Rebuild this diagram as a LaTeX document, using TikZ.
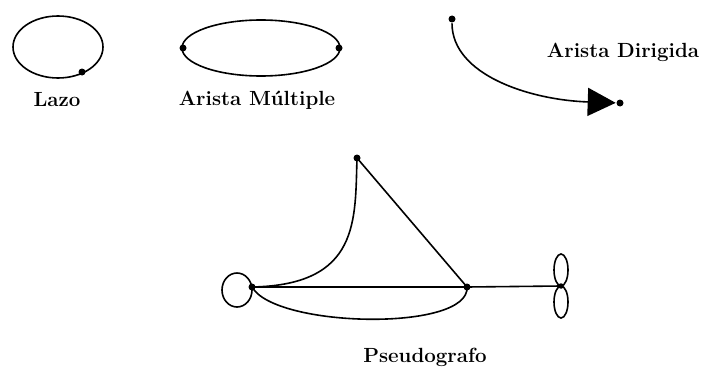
\documentclass[tikz,border=0pt]{standalone}
\usetikzlibrary{arrows.meta}
\begin{document}
\begin{tikzpicture}[x=1pt,y=-1pt,
  line width=1.6pt,
  dot/.style={circle,fill=black,inner sep=0pt,minimum size=7pt},
  lab/.style={font=\fontsize{20.5}{23}\selectfont\bfseries},
  edge/.style={draw=black,line width=1.6pt}]
\useasboundingbox (0,0) rectangle (706,369);
% Lazo
\draw (58,47) ellipse [x radius=45, y radius=31];
\node[dot] (l1) at (82,72) {};
\node[lab] (tl) at (57,100) {Lazo};
% Arista multiple
\draw (261,48) ellipse [x radius=79, y radius=28];
\node[dot] (m1) at (183,48) {};
\node[dot] (m2) at (339,48) {};
\node[lab] (tm) at (257,100) {Arista Múltiple};
% Arista dirigida
\node[dot] (d1) at (452,19) {};
\node[dot] (d2) at (620,103) {};
\draw[edge,-{Triangle[length=28pt,width=28pt]}] (d1) .. controls (452,75) and (530,100) .. (d2);
\node[lab] (td) at (623,52) {Arista Dirigida};
% Pseudografo
\node[dot] (p1) at (357,158) {};
\node[dot] (p2) at (252,287) {};
\node[dot] (p3) at (467,287) {};
\node[dot,minimum size=5.5pt] (p4) at (561,286) {};
\draw (p2.center) .. controls (360,285) and (355,220) .. (p1.center);
\draw (p1.center) -- (p3.center);
\draw (p2.center) -- (p3.center);
\draw (p2.center) .. controls (275,328) and (470,332) .. (p3.center);
\draw (p3.center) -- (p4.center);
\draw (237,290) ellipse [x radius=15, y radius=17];
\draw (561,270) ellipse [x radius=7, y radius=16];
\draw (561,302) ellipse [x radius=7, y radius=16];
\node[lab] (tp) at (425,357) {Pseudografo};
\end{tikzpicture}
\end{document}
